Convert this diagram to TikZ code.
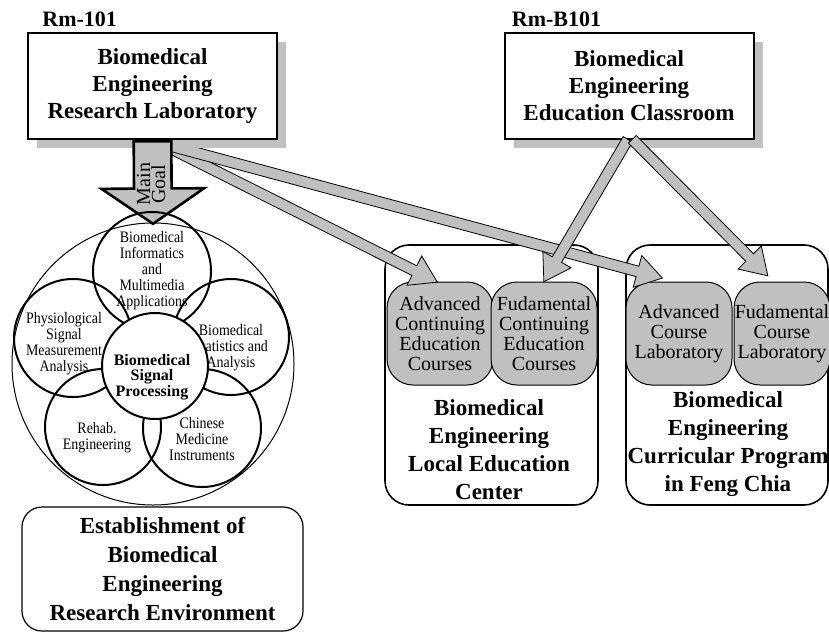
\documentclass[tikz,border=0pt]{standalone}
\usepackage{fontspec}
\setmainfont{Liberation Serif}
\newfontfamily\narrowserif[FakeStretch=0.87]{Liberation Serif}
\usepackage{xcolor}
\usetikzlibrary{arrows.meta,positioning,shapes.arrows,shadows,calc}
\definecolor{boxgrey}{HTML}{C0C0C0}

\newcommand{\blockarrow}[3][]{%
  \path let \p1=(#2), \p2=(#3), \n1={atan2(\y2-\y1,\x2-\x1)}, \n2={veclen(\x2-\x1,\y2-\y1)} in
    node[thinarrow, #1, minimum height=\n2, rotate=\n1] at (#2) {};
}

\begin{document}
\begin{tikzpicture}[
  x=0.5pt, y=-0.5pt,
  roombox/.style={draw, line width=1pt, fill=white, minimum width=124.5pt, minimum height=53pt, inner sep=0pt, align=center,
    font=\fontsize{11.5}{13.5}\selectfont\bfseries, general shadow={fill=boxgrey, shadow xshift=4.5pt, shadow yshift=-4.5pt}},
  roomlabel/.style={inner sep=0pt, font=\fontsize{11}{13}\selectfont\bfseries},
  centrebox/.style={draw, line width=0.8pt, rounded corners=12pt, minimum height=130pt},
  centretitle/.style={inner sep=0pt, align=center, font=\fontsize{11.5}{14}\selectfont\bfseries},
  coursebox/.style={draw, line width=0.5pt, fill=boxgrey, rounded corners=13pt, minimum width=53pt, minimum height=51.5pt,
    inner sep=0pt, align=center, font=\fontsize{10}{10}\selectfont},
  thinarrow/.style={single arrow, draw, fill=boxgrey, line width=0.4pt, inner sep=0pt, inner ysep=2.5pt, minimum width=0pt,
    single arrow head extend=5.5pt, single arrow tip angle=65, anchor=tail},
  goalarrow/.style={line width=1.3pt, inner ysep=8.75pt, single arrow head extend=16.25pt, single arrow tip angle=111},
  goaltext/.style={inner sep=0pt, align=center, font=\fontsize{10}{7.5}\selectfont},
  outerring/.style={circle, draw, line width=0.5pt, inner sep=0pt},
  petal/.style={circle, draw, line width=1pt, inner sep=0pt, minimum size=59pt},
  petaltext/.style={inner sep=0pt, align=center, font=\narrowserif\fontsize{8}{8}\selectfont},
  envbox/.style={draw, line width=0.6pt, rounded corners=10pt, minimum width=140.5pt, minimum height=62pt, inner sep=0pt,
    align=center, font=\fontsize{11.5}{14.5}\selectfont\bfseries}
]
  \useasboundingbox (0,0) rectangle (829,632);

  \node[centrebox, minimum width=106.5pt] (lec) at (491.5,375) {};
  \node[centrebox, minimum width=101pt] (cp) at (727,375) {};
  \node[coursebox] (acec) at (440,333.5) {Advanced\\Continuing\\Education\\Courses};
  \node[coursebox, right=-1.5pt of acec] (fcec) {Fudamental\\Continuing\\Education\\Courses};
  \node[coursebox] (acl) at (679,333.5) {Advanced\\Course\\Laboratory};
  \node[coursebox, minimum width=48pt, right=0.5pt of acl] (fcl) {Fudamental\\Course\\Laboratory};
  \node[centretitle] (lec-title) at (489,450) {Biomedical\\Engineering\\Local Education\\Center};
  \node[centretitle] (cp-title) at (728,444) {Biomedical\\Engineering\\Curricular Program\\in Feng Chia};

  \coordinate (lab-out) at (160,143);
  \coordinate (acec-in) at (437,282);
  \coordinate (acl-in) at (662,278);
  \blockarrow{lab-out}{acec-in}
  \blockarrow{lab-out}{acl-in}

  \node[roombox] (lab) at (152.5,86) {Biomedical\\Engineering\\Research Laboratory};
  \node[roomlabel, above right=2.5pt and 7.5pt of lab.north west] (lab-rm) {Rm-101};
  \node[roombox] (cls) at (629,86) {Biomedical\\Engineering\\Education Classroom};
  \node[roomlabel, above right=2.5pt and 4pt of cls.north west] (cls-rm) {Rm-B101};

  \coordinate (cls-outL) at (628,139);
  \coordinate (cls-outR) at (632,139);
  \coordinate (fcl-in) at (768,276);
  \blockarrow{cls-outL}{fcec.north}
  \blockarrow{cls-outR}{fcl-in}

  \node[outerring, minimum size=141pt] (bigc) at (153,364) {};
  \blockarrow[goalarrow]{lab.south}{bigc.north}
  \node[goaltext, rotate=90] (goal) at (151,184) {Main\\Goal};

  \node[petal, label={[petaltext]center:{Biomedical\\Informatics\\and\\Multimedia\\Applications}}] (info) at (152,271) {};
  \node[petal, label={[petaltext, xshift=-4.5pt, yshift=-3pt]center:{Physiological\\Signal\\Measurement\\Analysis}}] (phys) at (73,338) {};
  \node[petal, minimum size=58pt, label={[petaltext, yshift=-5.5pt]center:{Biomedical\\Statistics and\\Analysis}}] (stat) at (231,337) {};
  \node[petal, minimum size=58pt, label={[petaltext, xshift=-3pt, yshift=-5.5pt]center:{Rehab.\\Engineering}}] (rehab) at (103,427) {};
  \node[petal, label={[petaltext, yshift=-5.5pt]center:{Chinese\\Medicine\\Instruments}}] (chin) at (202,428) {};
  \node[petal, minimum size=53pt, fill=white, label={[petaltext, font=\fontsize{8}{7.8}\selectfont\bfseries, xshift=-1.5pt, yshift=-5.5pt]center:{Biomedical\\Signal\\Processing}}] (sig) at (155,366) {};

  \node[envbox] (env) at (162.5,569) {Establishment of\\Biomedical\\Engineering\\Research Environment};
\end{tikzpicture}
\end{document}
